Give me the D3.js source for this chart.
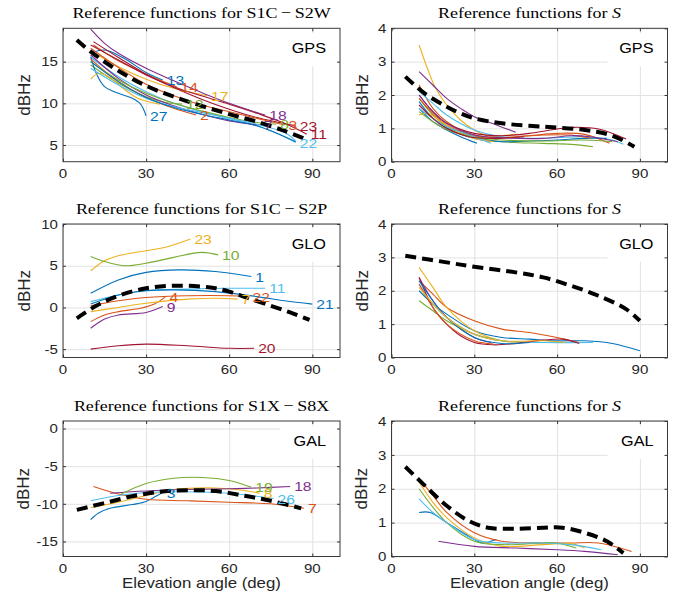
<!DOCTYPE html>
<html>
<head>
<meta charset="utf-8">
<script src="https://cdn.jsdelivr.net/npm/d3@7"></script>
<style>
  html, body { margin: 0; padding: 0; background: #fff; }
  svg { display: block; }
</style>
</head>
<body>
<svg id="fig" width="676" height="601"></svg>
<script>
// ---------------- data ----------------
const elevTicks = [0, 30, 60, 90];
const dcbTicksGps = [5, 10, 15];
const dcbTicksGlo = [-5, 0, 5, 10];
const dcbTicksGal = [-15, -10, -5, 0];
const sTicks = [0, 1, 2, 3, 4];

// MATLAB default line colour order; curve i takes colour i mod 7
const colorOrder = ["#0072BD", "#D95319", "#EDB120", "#7E2F8E", "#77AC30", "#4DBEEE", "#A2142F"];

// GPS S1C - S2W: fitted reference (dashed) and per-satellite curves [elevation, dBHz]
const gpsDcbRef = [[5,17.6],[10,16.2],[20,13.9],[30,12.1],[40,10.8],[50,9.7],[60,8.7],[70,7.8],[80,6.7],[87,5.8]];
const gpsDcbCurves = [
  { prn: "13", pts: [[10,16.0],[15,16.4],[22,15.4],[30,13.7],[36,12.8]] },
  { prn: "14", pts: [[11,17.0],[20,15.1],[30,13.5],[41,12.0]] },
  { prn: "17", pts: [[10,16.3],[20,14.4],[30,12.9],[40,11.8],[52,10.9]] },
  { prn: "18", pts: [[10,18.9],[15,17.2],[20,16.0],[30,14.2],[40,12.7],[50,11.3],[60,10.0],[70,8.9],[73,8.6]] },
  { prn: "12", pts: [[10,14.6],[20,12.4],[30,10.8],[37,10.1],[43,9.9]] },
  { prn: "22", pts: [[10,15.5],[20,13.2],[30,11.4],[40,10.0],[50,9.0],[60,8.2],[70,7.3],[78,6.3],[84,5.3]] },
  { prn: "11", pts: [[10,17.0],[20,15.2],[30,13.4],[40,12.0],[50,10.9],[60,9.9],[70,8.8],[80,7.6],[88,6.3]] },
  { prn: "27", pts: [[10,15.6],[12,13.6],[15,12.0],[20,11.2],[25,10.6],[28,9.9],[30,8.5]] },
  { prn: "2",  pts: [[10,15.3],[20,12.6],[30,10.7],[40,9.4],[48,8.6]] },
  { prn: null, pts: [[10,12.9],[13,13.6],[17,13.1],[22,11.7],[27,10.6],[32,10.1],[35,9.9]] },
  { prn: "7",  pts: [[10,15.8],[20,13.0],[30,11.0],[40,9.7],[50,8.7],[60,7.9],[71,7.4]] },
  { prn: "8",  pts: [[10,15.0],[20,12.8],[30,11.2],[40,10.0],[50,9.1],[60,8.3],[70,7.7],[77,7.5]] },
  { prn: null, pts: [[10,14.2],[20,12.2],[30,10.6],[40,9.6],[50,8.9],[60,8.2],[70,7.5],[80,6.5],[84,5.5]] },
  { prn: "23", pts: [[11,17.4],[20,15.5],[30,13.5],[40,11.9],[50,10.5],[60,9.3],[70,8.3],[84,7.3]] },
  { prn: null, pts: [[10,15.0],[20,12.6],[30,10.7],[40,9.5],[50,8.7],[60,8.0],[70,7.3],[84,5.4]] },
  { prn: "3",  pts: [[10,16.6],[20,14.3],[30,12.3],[40,10.9],[50,9.8],[60,9.0],[70,8.2],[80,7.4]] }
];

// GPS S
const gpsSRef = [[5,2.55],[12,2.05],[20,1.65],[25,1.45],[30,1.3],[40,1.15],[55,1.05],[70,0.95],[80,0.78],[88,0.45]];
const gpsSCurves = [
  [[10,1.6],[15,1.2],[20,0.95],[25,0.75],[31,0.55]],
  [[10,2.3],[15,1.6],[20,1.2],[30,0.8],[40,0.72],[50,0.78],[60,0.85],[70,0.82],[79,0.55]],
  [[10,3.5],[13,2.8],[16,2.2],[20,1.7],[25,1.25],[30,0.95],[36,0.75],[42,0.8],[46,0.82]],
  [[10,2.7],[15,2.3],[20,1.9],[25,1.6],[30,1.35],[38,1.1],[45,0.88]],
  [[10,1.9],[15,1.4],[20,1.05],[30,0.75],[40,0.6],[55,0.55],[65,0.52],[73,0.45]],
  [[10,2.1],[15,1.75],[20,1.4],[30,0.95],[40,0.75],[50,0.7],[60,0.72],[70,0.75],[80,0.65],[84,0.52]],
  [[10,2.0],[15,1.5],[20,1.15],[30,0.85],[40,0.78],[50,0.85],[60,0.98],[66,1.03],[75,0.98],[85,0.68]],
  [[10,1.8],[15,1.3],[20,1.0],[30,0.7],[40,0.6],[50,0.62],[60,0.65],[70,0.7],[78,0.7]],
  [[10,1.9],[15,1.45],[20,1.1],[27,0.85],[35,0.7],[45,0.75],[55,0.8],[65,0.8],[72,0.7]],
  [[10,1.4],[13,1.45],[18,1.2],[25,0.85],[30,0.7],[37,0.6]],
  [[10,2.0],[15,1.5],[20,1.15],[30,0.8],[40,0.72],[55,0.7],[65,0.78],[72,0.75],[82,0.6]],
  [[10,1.5],[15,1.2],[22,0.9],[30,0.75],[40,0.65],[55,0.62],[70,0.65],[80,0.6]],
  [[10,1.6],[15,1.3],[20,1.05],[30,0.75],[36,0.55]],
  [[10,1.7],[15,1.3],[20,1.0],[28,0.75],[38,0.7],[48,0.75]]
];

// GLONASS S1C - S2P
const gloDcbRef = [[5,-1.3],[12,0.2],[20,1.4],[30,2.3],[40,2.6],[50,2.5],[55,2.3],[60,1.9],[66,1.2],[75,0.2],[82,-0.6],[89,-1.5]];
const gloDcbCurves = [
  { prn: "1",  pts: [[10,1.7],[20,3.3],[30,4.2],[42,4.5],[55,4.3],[68,3.7]] },
  { prn: "22", pts: [[10,0.2],[20,0.8],[30,1.2],[45,1.4],[60,1.4],[67,1.3]] },
  { prn: "23", pts: [[10,4.4],[15,5.6],[20,6.2],[30,6.8],[38,7.3],[46,8.2]] },
  { prn: "9",  pts: [[10,-2.5],[15,-1.4],[20,-0.9],[30,-0.6],[36,0.1]] },
  { prn: "10", pts: [[10,6.1],[15,5.5],[22,5.0],[30,5.3],[40,6.0],[50,6.6],[56,6.3]] },
  { prn: "11", pts: [[10,0.7],[20,1.5],[30,2.0],[45,2.2],[60,2.3],[73,2.3]] },
  { prn: "20", pts: [[10,-5.0],[20,-4.6],[30,-4.4],[45,-4.6],[60,-4.9],[69,-4.9]] },
  { prn: "21", pts: [[10,0.4],[20,1.5],[30,2.0],[40,2.1],[55,1.9],[70,1.3],[80,0.8],[90,0.4]] },
  { prn: "4",  pts: [[10,-1.7],[15,-0.9],[20,-0.5],[28,-0.1],[33,0.4],[37,1.3]] },
  { prn: "7",  pts: [[10,-0.5],[20,0.0],[30,0.5],[45,1.0],[55,1.1],[63,1.0]] }
];

// GLONASS S
const gloSRef = [[5,3.05],[20,2.85],[30,2.72],[45,2.55],[55,2.4],[65,2.15],[75,1.85],[85,1.45],[90,1.1]];
const gloSCurves = [
  [[10,2.0],[15,1.6],[20,1.3],[30,0.8],[40,0.6],[50,0.55],[60,0.5],[70,0.5],[80,0.42],[90,0.2]],
  [[10,2.3],[15,1.9],[20,1.5],[30,1.1],[40,0.85],[50,0.75],[60,0.6],[68,0.45]],
  [[10,2.7],[15,2.1],[20,1.5],[30,0.8],[40,0.5],[50,0.45]],
  [[10,2.4],[15,1.7],[20,1.2],[30,0.6],[36,0.45]],
  [[10,1.7],[15,1.4],[20,1.1],[30,0.7],[40,0.5],[50,0.45]],
  [[10,2.2],[15,1.6],[20,1.2],[30,0.7],[40,0.5],[55,0.45],[73,0.45]],
  [[10,2.4],[15,1.5],[20,1.0],[25,0.65],[30,0.45],[37,0.38],[45,0.42],[55,0.52],[62,0.55],[68,0.42]],
  [[10,2.3],[15,1.7],[20,1.2],[30,0.6],[40,0.42],[50,0.45]],
  [[10,2.2],[15,1.5],[20,1.0],[30,0.5],[37,0.4]],
  [[10,2.1],[20,1.2],[30,0.7],[40,0.5],[55,0.5],[63,0.45]]
];

// Galileo S1X - S8X
const galDcbRef = [[5,-10.8],[15,-9.9],[25,-9.0],[35,-8.4],[45,-8.2],[55,-8.3],[65,-8.9],[75,-9.6],[86,-10.6]];
const galDcbCurves = [
  { prn: "3",  pts: [[10,-12.1],[13,-11.2],[17,-10.6],[25,-10.1],[30,-9.7],[33,-9.1],[36,-8.5]] },
  { prn: "7",  pts: [[11,-7.7],[20,-8.7],[30,-9.4],[45,-9.6],[60,-9.8],[75,-10.0],[87,-10.6]] },
  { prn: "8",  pts: [[10,-10.5],[20,-9.8],[30,-8.9],[40,-8.1],[55,-7.9],[65,-8.2],[71,-8.6]] },
  { prn: "18", pts: [[17,-8.6],[30,-8.3],[45,-8.1],[60,-8.0],[70,-7.9],[82,-7.7]] },
  { prn: "19", pts: [[21,-8.7],[30,-7.3],[40,-6.6],[50,-6.5],[60,-6.9],[68,-7.8]] },
  { prn: "26", pts: [[10,-9.6],[20,-8.9],[30,-8.5],[45,-8.4],[60,-8.6],[70,-9.0],[76,-9.3]] }
];

// Galileo S
const galSRef = [[5,2.65],[12,2.1],[20,1.5],[28,1.05],[35,0.85],[45,0.82],[55,0.85],[62,0.85],[70,0.7],[78,0.45],[84,0.1]];
const galSCurves = [
  [[10,1.3],[14,1.3],[20,1.0],[28,0.6],[33,0.4],[36,0.45],[38,0.5]],
  [[10,2.3],[15,1.8],[20,1.3],[30,0.7],[40,0.45],[55,0.4],[65,0.4],[75,0.4],[87,0.15]],
  [[10,2.2],[15,1.6],[20,1.15],[30,0.55],[40,0.3],[55,0.35],[65,0.38],[70,0.25]],
  [[17,0.45],[30,0.3],[45,0.25],[60,0.2],[70,0.15],[82,0.05]],
  [[10,2.0],[20,1.0],[30,0.45],[40,0.35],[55,0.4],[60,0.4],[67,0.25]],
  [[10,1.7],[15,1.3],[20,1.0],[30,0.5],[40,0.4],[55,0.4],[65,0.35],[76,0.2]]
];

// ---------------- drawing ----------------
const svg = d3.select("#fig");
svg.append("rect").attr("width", 676).attr("height", 601).attr("fill", "#fff");

const SX = 1.16;                       // horizontal stretch of the lettering
const SANS = "'Liberation Sans', Arial, Helvetica, sans-serif";
const SERIF = "'Liberation Serif', 'Times New Roman', serif";
const colLeft = [63, 340], colRight = [391.5, 667.5];
const rows = [[28.3, 161.7], [224, 357.5], [421, 556.5]];

function label(g, x, y, anchor, size, family, rotate) {
  return g.append("text")
    .attr("transform", rotate ? `translate(${x},${y}) rotate(-90)` : `translate(${x},${y}) scale(${SX},1)`)
    .attr("text-anchor", anchor)
    .style("font-family", family)
    .style("font-size", size + "px");
}

function panel(cfg) {
  const [x0, x1] = cfg.cols, [top, bottom] = cfg.row;
  const x = d3.scaleLinear().domain([0, 100]).range([x0, x1]);
  const y = d3.scaleLinear().domain(cfg.yDomain).range([bottom, top]);
  const g = svg.append("g");
  const w = x1 - x0, h = bottom - top;

  // grid
  const gx = g.append("g").attr("transform", `translate(0,${bottom})`)
    .call(d3.axisBottom(x).tickValues(elevTicks).tickSize(-h).tickFormat(""));
  const gy = g.append("g").attr("transform", `translate(${x0},0)`)
    .call(d3.axisLeft(y).tickValues(cfg.yTicks).tickSize(-w).tickFormat(""));
  [gx, gy].forEach(a => {
    a.select(".domain").remove();
    a.selectAll("line").attr("stroke", "#e2e2e2").attr("stroke-width", 1);
  });

  // system tag with white background
  g.append("rect").attr("x", x1 - 60).attr("y", top + 5).attr("width", 59).attr("height", 33).attr("fill", "#fff");
  label(g, x1 - 14, top + 25, "end", 14, SANS).attr("fill", "#000").text(cfg.sys);

  const line = d3.line().x(d => x(d[0])).y(d => y(d[1])).curve(d3.curveCatmullRom.alpha(0.5));

  // per-satellite curves
  cfg.curves.forEach((c, i) => {
    const pts = c.pts || c;
    g.append("path").datum(pts).attr("d", line)
      .attr("fill", "none").attr("stroke", colorOrder[i % 7]).attr("stroke-width", 1.1);
  });

  // reference function
  g.append("path").datum(cfg.ref).attr("d", line)
    .attr("fill", "none").attr("stroke", "#000").attr("stroke-width", 4)
    .attr("stroke-dasharray", "11 6");

  // satellite numbers at curve ends
  cfg.curves.forEach((c, i) => {
    if (!c.prn) return;
    const end = c.pts[c.pts.length - 1];
    label(g, x(end[0]) + 4, y(end[1]) + 5, "start", 13.5, SANS)
      .attr("fill", colorOrder[i % 7]).text(c.prn);
  });

  // box and inward ticks on all four sides
  const tick = (axis, tr) => {
    const a = g.append("g").attr("transform", tr).call(axis);
    a.select(".domain").remove();
    a.selectAll("line").attr("stroke", "#333");
    a.selectAll("text").remove();
  };
  tick(d3.axisBottom(x).tickValues(elevTicks).tickSize(-3), `translate(0,${bottom})`);
  tick(d3.axisTop(x).tickValues(elevTicks).tickSize(-3), `translate(0,${top})`);
  tick(d3.axisLeft(y).tickValues(cfg.yTicks).tickSize(-3), `translate(${x0},0)`);
  tick(d3.axisRight(y).tickValues(cfg.yTicks).tickSize(-3), `translate(${x1},0)`);
  g.append("rect").attr("x", x0).attr("y", top).attr("width", w).attr("height", h)
    .attr("fill", "none").attr("stroke", "#3a3a3a").attr("stroke-width", 1);

  // tick labels
  elevTicks.forEach(t => {
    label(g, x(t), bottom + 16, "middle", 13, SANS).attr("fill", "#262626").text(String(t));
  });
  cfg.yTicks.forEach(t => {
    label(g, x0 - 5, y(t) + 4.7, "end", 13, SANS).attr("fill", "#262626").text(String(t));
  });

  // axis titles
  label(g, cfg.ylabX, (top + bottom) / 2, "middle", 17, SANS, true).attr("fill", "#262626").text("dBHz");
  if (cfg.xlabel) {
    label(g, (x0 + x1) / 2, bottom + 31.5, "middle", 14.5, SANS).attr("fill", "#262626").text("Elevation angle (deg)");
  }

  // panel title
  const tt = label(g, (x0 + x1) / 2, top - 10, "middle", 15.5, SERIF).attr("fill", "#000");
  tt.append("tspan").text("Reference functions for ");
  if (cfg.obs) {
    tt.append("tspan").text(cfg.obs);
  } else {
    tt.append("tspan").style("font-style", "italic").text("S");
  }
}

panel({ cols: colLeft,  row: rows[0], yDomain: [3, 19],  yTicks: dcbTicksGps, sys: "GPS", ref: gpsDcbRef, curves: gpsDcbCurves, obs: "S1C\u2009\u2212\u2009S2W", ylabX: 30 });
panel({ cols: colRight, row: rows[0], yDomain: [0, 4],   yTicks: sTicks,      sys: "GPS", ref: gpsSRef,   curves: gpsSCurves,   ylabX: 368 });
panel({ cols: colLeft,  row: rows[1], yDomain: [-6, 10], yTicks: dcbTicksGlo, sys: "GLO", ref: gloDcbRef, curves: gloDcbCurves, obs: "S1C\u2009\u2212\u2009S2P", ylabX: 30 });
panel({ cols: colRight, row: rows[1], yDomain: [0, 4],   yTicks: sTicks,      sys: "GLO", ref: gloSRef,   curves: gloSCurves,   ylabX: 368 });
panel({ cols: colLeft,  row: rows[2], yDomain: [-17, 1], yTicks: dcbTicksGal, sys: "GAL", ref: galDcbRef, curves: galDcbCurves, obs: "S1X\u2009\u2212\u2009S8X", ylabX: 29, xlabel: true });
panel({ cols: colRight, row: rows[2], yDomain: [0, 4],   yTicks: sTicks,      sys: "GAL", ref: galSRef,   curves: galSCurves,   ylabX: 367, xlabel: true });
</script>
</body>
</html>
